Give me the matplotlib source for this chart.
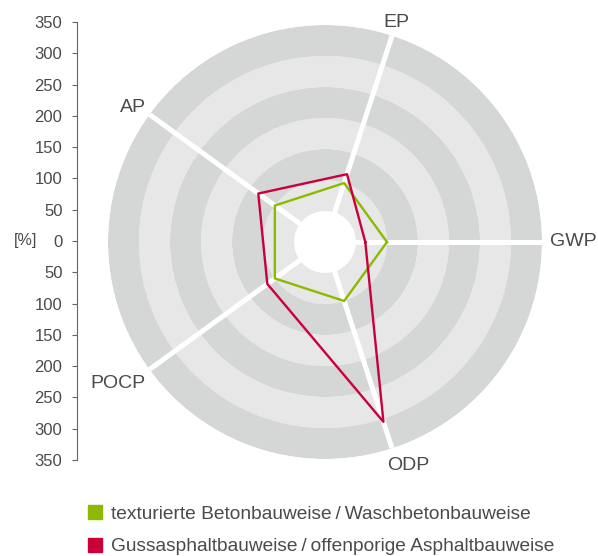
import numpy as np
import matplotlib
matplotlib.use("Agg")
import matplotlib.pyplot as plt
from matplotlib.patches import Patch

# data
categories = ["GWP", "EP", "AP", "POCP", "ODP"]
beton = [100, 100, 100, 100, 100]  # texturierte Betonbauweise / Waschbetonbauweise
asphalt = [65, 115, 133, 115, 305]  # Gussasphaltbauweise / offenporige Asphaltbauweise
series_names = ["texturierte Betonbauweise\u2009/\u2009Waschbetonbauweise",
                "Gussasphaltbauweise\u2009/\u2009offenporige Asphaltbauweise"]
ring_edges = [0, 50, 100, 150, 200, 250, 300, 350]
scale_ticks = list(range(-350, 351, 50))

# styles
green = "#8cba00"
red = "#c8003c"
dark_band = "#d5d6d6"
light_band = "#e7e7e7"
text_col = "#4a4a4a"
ring_colors = ["white", light_band, dark_band, light_band, dark_band, light_band, dark_band]
# label placement (angle in deg, radius in data units)
label_pos = {"GWP": (0.2, 400), "EP": (72, 373), "AP": (145, 378),
             "POCP": (214.3, 404), "ODP": (290.3, 385)}

plt.rcParams["font.family"] = ["Liberation Sans", "DejaVu Sans"]

W, H = 598, 556
fig = plt.figure(figsize=(W / 100, H / 100), dpi=100)

cx, cy, R = 325, 242, 217
ax = fig.add_axes([(cx - R) / W, 1 - (cy + R) / H, 2 * R / W, 2 * R / H], projection="polar")
ax.set_ylim(0, 350)
ax.grid(False)
ax.set_xticks([])
ax.set_yticks([])
ax.spines["polar"].set_visible(False)
ax.patch.set_alpha(0)

# grey rings
for lo, hi, c in zip(ring_edges[:-1], ring_edges[1:], ring_colors):
    ax.bar(0, hi - lo, width=2 * np.pi, bottom=lo, color=c, edgecolor="none",
           linewidth=0, align="edge", zorder=1)

# white spokes
angles = np.deg2rad(np.arange(len(categories)) * 360 / len(categories))
for t in angles:
    ax.plot([t, t], [0, 350], color="white", lw=3.6, solid_capstyle="butt", zorder=2)

closed = np.append(angles, angles[0])
ax.plot(closed, beton + beton[:1], color=green, lw=1.7, zorder=3)
ax.plot(closed, asphalt + asphalt[:1], color=red, lw=1.7, zorder=4)

for name in categories:
    a, r = label_pos[name]
    ax.text(np.deg2rad(a), r, name, ha="center", va="center", fontsize=14,
            color=text_col, clip_on=False)

# left scale
ax2 = fig.add_axes([77 / W, 1 - 460 / H, 0.01, 438 / H])
ax2.set_ylim(-350, 350)
ax2.set_yticks(scale_ticks)
ax2.set_yticklabels([str(abs(v)) for v in scale_ticks])
ax2.set_xticks([])
for s in ["right", "top", "bottom"]:
    ax2.spines[s].set_visible(False)
ax2.spines["left"].set_color("#666666")
ax2.spines["left"].set_linewidth(0.8)
ax2.tick_params(axis="y", length=3.5, width=0.8, color="#666666", pad=7,
                labelsize=12, labelcolor=text_col)
ax2.patch.set_alpha(0)
fig.text(37 / W, 1 - 241 / H, "[%]", ha="right", va="center", fontsize=11.5, color=text_col)

handles = [Patch(color=green), Patch(color=red)]
fig.legend(handles, series_names, loc="upper left", bbox_to_anchor=(88 / W, 1 - 505 / H),
           frameon=False, fontsize=13.8, handlelength=0.75, handleheight=0.75,
           handletextpad=0.45, labelspacing=0.78, borderpad=0, borderaxespad=0,
           labelcolor=text_col)

fig.savefig("out.png", dpi=100)
